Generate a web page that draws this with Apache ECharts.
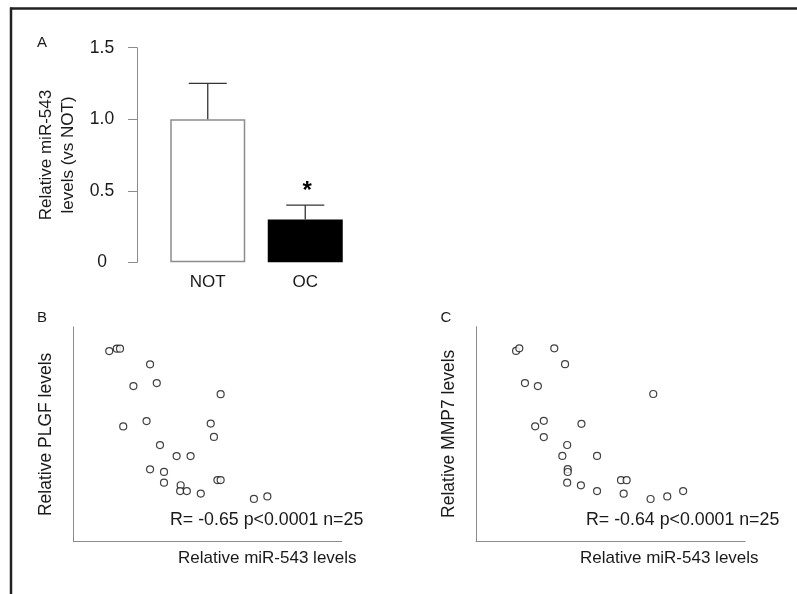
<!DOCTYPE html>
<html><head><meta charset="utf-8">
<script src="https://cdn.jsdelivr.net/npm/echarts@6/dist/echarts.min.js"></script>
<style>html,body{margin:0;padding:0;background:#fff}#c{width:797px;height:594px}</style>
</head><body><div id="c"></div>
<script>
// Panel A
const barCategories = ['NOT', 'OC'];
const barMeans = [1.0, 0.3];
const barErrors = [0.25, 0.1];
const barSignificance = ['', '*'];
const barYTicks = ['0', '0.5', '1.0', '1.5'];

// Panel B (relative miR-543 vs relative PLGF, arbitrary units)
const plgfMir   = [13.4, 16.2, 17.4, 28.6, 22.4, 31.1, 54.9, 18.6, 27.3, 51.2, 52.4, 32.3, 38.5, 43.7, 28.6, 33.8, 33.8, 40.0, 39.8, 42.3, 47.5, 53.7, 54.9, 67.3, 72.3];
const plgfLevel = [88.8, 89.9, 89.9, 82.6, 72.5, 73.9, 68.7, 53.7, 56.2, 55.0, 48.8, 45.0, 39.9, 39.9, 33.7, 32.5, 27.5, 26.3, 23.6, 23.6, 22.4, 28.7, 28.7, 19.9, 21.1];

// Panel C (relative miR-543 vs relative MMP7, arbitrary units)
const mmp7Mir   = [14.9, 16.1, 29.1, 33.1, 18.2, 23.0, 65.9, 22.0, 25.2, 39.2, 25.2, 33.9, 32.1, 45.0, 34.1, 34.1, 33.9, 39.0, 45.0, 53.9, 56.0, 54.9, 64.9, 71.1, 77.0];
const mmp7Level = [88.7, 89.9, 89.9, 82.5, 73.7, 72.3, 68.6, 53.5, 56.1, 54.7, 48.5, 44.8, 39.7, 39.7, 33.5, 32.2, 27.2, 26.0, 23.3, 28.4, 28.4, 22.1, 19.6, 20.8, 23.3];

const statsB = 'R= -0.65 p<0.0001 n=25';
const statsC = 'R= -0.64 p<0.0001 n=25';

const FONT = "'Liberation Sans', Arial, sans-serif";
const TXT = '#1a1a1a';
const AX = '#8a8a8a';

const chart = echarts.init(document.getElementById('c'), null, {renderer: 'canvas'});

function scatterAxis(gridIndex, name, nameGap) {
  return {
    gridIndex, type: 'value', min: 0, max: 100,
    axisLine: {show: true, lineStyle: {color: AX, width: 1}},
    axisTick: {show: false}, axisLabel: {show: false}, splitLine: {show: false},
    name: name, nameLocation: 'middle', nameGap: nameGap, nameRotate: name ? 90 : null,
    nameTextStyle: {fontFamily: FONT, fontSize: 17.5, color: TXT}
  };
}

const option = {
  backgroundColor: '#fff',
  animation: false,
  grid: [
    {left: 159, top: 47.7, width: 195, height: 214.6},
    {left: 73.3, top: 327, width: 268.4, height: 214.7},
    {left: 476, top: 326.7, width: 269, height: 214.3}
  ],
  xAxis: [
    {gridIndex: 0, type: 'category', data: barCategories,
     axisLine: {show: false}, axisTick: {show: false},
     axisLabel: {fontFamily: FONT, fontSize: 17, color: TXT, margin: 12}},
    Object.assign(scatterAxis(1, '', 0), {name: ''}),
    Object.assign(scatterAxis(2, '', 0), {name: ''})
  ],
  yAxis: [
    {gridIndex: 0, type: 'value', min: 0, max: 1.5, interval: 0.5, offset: 22,
     axisLine: {show: true, lineStyle: {color: AX, width: 1}},
     axisTick: {show: true, length: 9, lineStyle: {color: AX}},
     splitLine: {show: false},
     axisLabel: {fontFamily: FONT, fontSize: 17.5, color: TXT, margin: 35, align: 'center',
       formatter: (v) => barYTicks[Math.round(v / 0.5)]},
     name: 'Relative miR-543\nlevels (vs NOT)', nameLocation: 'middle', nameGap: 58,
     nameMoveOverlap: false,
     nameTextStyle: {fontFamily: FONT, fontSize: 17, color: TXT, lineHeight: 22, align: 'center'}},
    scatterAxis(1, 'Relative PLGF levels', 18),
    scatterAxis(2, 'Relative MMP7 levels', 18)
  ],
  series: [
    {type: 'bar', xAxisIndex: 0, yAxisIndex: 0, barWidth: 75,
     data: barMeans.map((v, i) => ({value: v, itemStyle: i === 0
       ? {color: '#ffffff', borderColor: '#8c8c8c', borderWidth: 1.5}
       : {color: '#000000'}}))},
    {type: 'custom', xAxisIndex: 0, yAxisIndex: 0, z: 5,
     data: barMeans.map((m, i) => [i, m, barErrors[i]]),
     renderItem: function (params, api) {
       const i = api.value(0), m = api.value(1), e = api.value(2);
       const base = api.coord([i, m]);
       const top = api.coord([i, m + e]);
       const half = 19;
       const children = [
         {type: 'line', shape: {x1: base[0], y1: base[1], x2: top[0], y2: top[1]}, style: {stroke: '#333', lineWidth: 1.3}},
         {type: 'line', shape: {x1: top[0] - half, y1: top[1], x2: top[0] + half, y2: top[1]}, style: {stroke: '#333', lineWidth: 1.3}}
       ];
       const sig = barSignificance[params.dataIndex];
       if (sig) {
         children.push({type: 'text', x: top[0] + 2, y: top[1] - 14,
           style: {text: sig, fontFamily: FONT, fontSize: 24, fontWeight: 'bold', fill: '#000', align: 'center', verticalAlign: 'middle'}});
       }
       return {type: 'group', children};
     }},
    {type: 'scatter', xAxisIndex: 1, yAxisIndex: 1, symbol: 'circle', symbolSize: 7,
     itemStyle: {color: '#ffffff', borderColor: '#111', borderWidth: 1.2},
     data: plgfMir.map((x, i) => [x, plgfLevel[i]])},
    {type: 'scatter', xAxisIndex: 2, yAxisIndex: 2, symbol: 'circle', symbolSize: 7,
     itemStyle: {color: '#ffffff', borderColor: '#111', borderWidth: 1.2},
     data: mmp7Mir.map((x, i) => [x, mmp7Level[i]])}
  ],
  graphic: [
    {type: 'line', shape: {x1: 10, y1: 8.5, x2: 797, y2: 8.5}, style: {stroke: '#222', lineWidth: 2.5}, z: 10},
    {type: 'line', shape: {x1: 11, y1: 7.5, x2: 11, y2: 594}, style: {stroke: '#222', lineWidth: 2.5}, z: 10},
    {type: 'text', x: 42, y: 43, style: {text: 'A', fontFamily: FONT, fontSize: 15, fill: TXT, align: 'center', verticalAlign: 'middle'}},
    {type: 'text', x: 42, y: 318, style: {text: 'B', fontFamily: FONT, fontSize: 15, fill: TXT, align: 'center', verticalAlign: 'middle'}},
    {type: 'text', x: 446, y: 318, style: {text: 'C', fontFamily: FONT, fontSize: 15, fill: TXT, align: 'center', verticalAlign: 'middle'}},
    {type: 'text', x: 170, y: 520, style: {text: statsB, fontFamily: FONT, fontSize: 17.8, fill: TXT, align: 'left', verticalAlign: 'middle'}},
    {type: 'text', x: 586, y: 520, style: {text: statsC, fontFamily: FONT, fontSize: 17.8, fill: TXT, align: 'left', verticalAlign: 'middle'}},
    {type: 'text', x: 178, y: 558, style: {text: 'Relative miR-543 levels', fontFamily: FONT, fontSize: 17, fill: TXT, align: 'left', verticalAlign: 'middle'}},
    {type: 'text', x: 580, y: 558, style: {text: 'Relative miR-543 levels', fontFamily: FONT, fontSize: 17, fill: TXT, align: 'left', verticalAlign: 'middle'}}
  ]
};
chart.setOption(option);
</script>
</body></html>
